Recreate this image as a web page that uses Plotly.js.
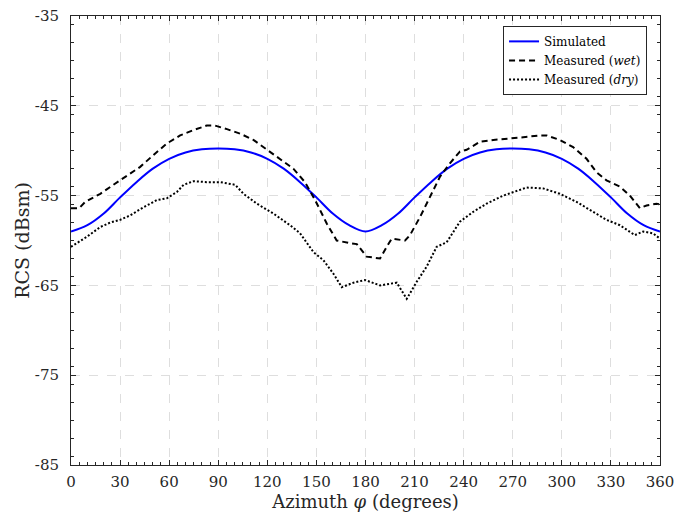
<!DOCTYPE html>
<html>
<head>
<meta charset="utf-8">
<script src="https://cdn.plot.ly/plotly-3.0.1.min.js"></script>
<style>html,body{margin:0;padding:0;background:#fff;}#chart{width:675px;height:518px;}</style>
</head>
<body>
<div id="chart"></div>
<script>
// Simulated RCS
const simAz = [0,10,20,30,40,50,60,70,80,90,100,110,120,130,140,150,160,170,180,190,200,210,220,230,240,250,260,270,280,290,300,310,320,330,340,350,360];
const simRcs = [-59.0,-58.3,-57.0,-55.2,-53.5,-52.0,-50.9,-50.2,-49.85,-49.75,-49.85,-50.2,-50.9,-52.0,-53.5,-55.2,-57.0,-58.3,-59.0,-58.3,-57.0,-55.2,-53.5,-52.0,-50.9,-50.2,-49.85,-49.75,-49.85,-50.2,-50.9,-52.0,-53.5,-55.2,-57.0,-58.3,-59.0];

// Measured (wet)
const wetAz = [0,5,8.7,17.9,25.9,34.2,42.3,51.5,58.6,66.7,74.9,83,88,95.3,103.4,111.5,119.7,127.8,135.9,143,149.2,156.3,162.4,170.6,174.7,180.7,188.9,193,196,204.2,207.2,213.3,219.4,225.5,231.6,237.7,241.8,250,258.1,266.3,276.4,286.6,290.7,298.8,306.9,315.1,321.2,327.3,335.5,341.6,347.7,351.8,357.9,360];
const wetRcs = [-56.4,-56.4,-55.7,-54.8,-53.8,-52.8,-51.8,-50.3,-49.2,-48.3,-47.7,-47.2,-47.2,-47.6,-48.1,-48.8,-49.9,-50.9,-52.0,-53.5,-55.5,-58.1,-60.0,-60.3,-60.4,-61.8,-62.0,-60.7,-59.8,-60.0,-59.4,-57.4,-55.1,-52.9,-51.4,-50.1,-49.9,-49.0,-48.8,-48.7,-48.5,-48.3,-48.3,-48.8,-49.6,-50.9,-52.4,-53.3,-54.0,-55.0,-56.4,-56.1,-55.9,-56.0];

// Measured (dry)
const dryAz = [0,9.6,17.9,24,30,36.2,44.3,52.5,58.6,64.7,68.8,74.9,83,91.2,100.4,105.4,113.6,123.7,133.9,140,148.2,154.3,160.4,165.5,172.6,179.7,188.9,199.1,205.2,211.3,217.4,223.5,229.6,237.7,245.9,254,264.2,270.3,278.5,288.6,298.8,309,319.1,327.3,335.5,344.6,349.7,355.8,360];
const dryRcs = [-60.7,-59.6,-58.5,-58.0,-57.7,-57.2,-56.3,-55.5,-55.3,-54.6,-53.8,-53.4,-53.5,-53.5,-53.8,-54.8,-55.9,-57.0,-58.3,-59.2,-61.3,-62.2,-63.7,-65.2,-64.7,-64.4,-65.0,-64.7,-66.5,-64.6,-62.9,-60.7,-60.2,-57.9,-56.8,-55.9,-55.0,-54.6,-54.1,-54.2,-54.8,-55.7,-56.8,-57.7,-58.3,-59.4,-59.0,-59.2,-59.8];

const seriesNames = ["Simulated", "Measured (<i>wet</i>)", "Measured (<i>dry</i>)"];
const xTickVals = [0,30,60,90,120,150,180,210,240,270,300,330,360];
const xTickText = ["0","30","60","90","120","150","180","210","240","270","300","330","360"];
const yTickVals = [-85,-75,-65,-55,-45,-35];
const yTickText = ["-85","-75","-65","-55","-45","-35"];

const axCol = "#262626";
const fontFam = "DejaVu Serif, serif";

const traces = [
  {x: simAz, y: simRcs, name: seriesNames[0], mode: "lines", line: {color: "#0000ff", width: 2, shape: "spline", smoothing: 1}},
  {x: wetAz, y: wetRcs, name: seriesNames[1], mode: "lines", line: {color: "#000000", width: 2, dash: "6px,4px"}},
  {x: dryAz, y: dryRcs, name: seriesNames[2], mode: "lines", line: {color: "#000000", width: 2, dash: "2px,2px"}}
];

const layout = {
  width: 675, height: 518,
  margin: {l: 71, r: 15, t: 16, b: 53},
  paper_bgcolor: "#fff", plot_bgcolor: "#fff",
  font: {family: fontFam, color: axCol, size: 15},
  showlegend: true,
  legend: {
    x: 0.978, y: 0.978, xanchor: "right", yanchor: "top",
    bgcolor: "#fff", bordercolor: axCol, borderwidth: 1,
    font: {family: fontFam, size: 12, color: "#000"},
    tracegroupgap: 0, itemwidth: 30
  },
  xaxis: {
    range: [0, 360], tickmode: "array", tickvals: xTickVals, ticktext: xTickText,
    ticks: "inside", ticklen: 5, tickcolor: axCol, tickwidth: 1, ticklabelstandoff: 3,
    showline: true, linecolor: axCol, linewidth: 1, mirror: "ticks",
    showgrid: true, gridcolor: "#dedede", griddash: "dash", gridwidth: 1,
    zeroline: false,
    minor: {ticks: "inside", ticklen: 3, dtick: 5, tick0: 0, tickcolor: axCol, showgrid: false},
    tickfont: {family: fontFam, size: 15, color: axCol},
    title: {text: "Azimuth <i>φ</i> (degrees)", font: {family: fontFam, size: 18, color: axCol}, standoff: 4}
  },
  yaxis: {
    range: [-85, -35], tickmode: "array", tickvals: yTickVals, ticktext: yTickText,
    ticks: "inside", ticklen: 5, tickcolor: axCol, tickwidth: 1, ticklabelstandoff: 8,
    showline: true, linecolor: axCol, linewidth: 1, mirror: "ticks",
    showgrid: true, gridcolor: "#dedede", griddash: "dash", gridwidth: 1,
    zeroline: false,
    minor: {ticks: "inside", ticklen: 3, dtick: 2, tick0: 0, tickcolor: axCol, showgrid: false},
    tickfont: {family: fontFam, size: 15, color: axCol},
    title: {text: "RCS (dBsm)", font: {family: fontFam, size: 19, color: axCol}, standoff: 0}
  }
};

Plotly.newPlot("chart", traces, layout, {staticPlot: true, displayModeBar: false});
</script>
</body>
</html>
